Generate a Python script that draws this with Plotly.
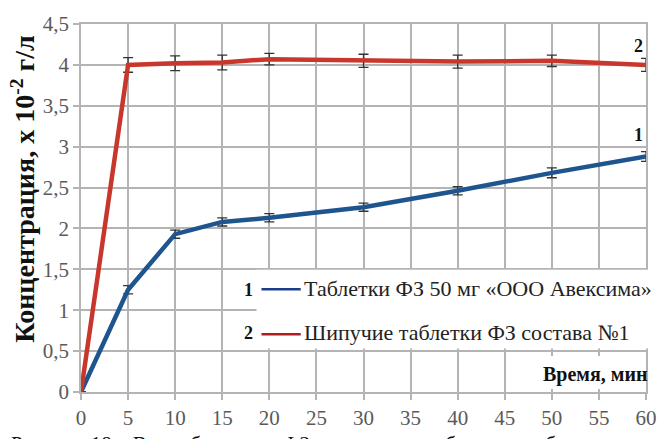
import plotly.graph_objects as go

# Release time, min
time_min = [0, 5, 10, 15, 20, 30, 40, 50, 60]

# Series 1: Таблетки ФЗ 50 мг «ООО Авексима»
conc_1 = [0, 1.25, 1.93, 2.08, 2.13, 2.26, 2.46, 2.68, 2.88]
err_1 = [0, 0.05, 0.05, 0.05, 0.05, 0.05, 0.05, 0.06, 0.06]

# Series 2: Шипучие таблетки ФЗ состава №1
conc_2 = [0, 4.00, 4.02, 4.03, 4.07, 4.05, 4.04, 4.05, 4.00]
err_2 = [0, 0.09, 0.09, 0.09, 0.07, 0.08, 0.08, 0.07, 0.08]

x_ticks = list(range(0, 61, 5))
y_ticks = [0, 0.5, 1, 1.5, 2, 2.5, 3, 3.5, 4, 4.5]
y_tick_text = ["0", "0,5", "1", "1,5", "2", "2,5", "3", "3,5", "4", "4,5"]

legend_names = ["Таблетки ФЗ 50 мг «ООО Авексима»", "Шипучие таблетки ФЗ состава №1"]

BLUE = "#1f558e"
RED = "#c9362b"
GRID = "#b4b4b4"
TICK_GRAY = "#5a5a5a"
SERIF = "Liberation Serif, Times New Roman, serif"

fig = go.Figure()
for y, e, c in [(conc_1, err_1, BLUE), (conc_2, err_2, RED)]:
    fig.add_trace(go.Scatter(
        x=time_min, y=y, mode="lines",
        line=dict(color=c, width=4.5),
        error_y=dict(type="data", array=e, visible=True, color="#333333",
                     thickness=1.3, width=5),
        showlegend=False, cliponaxis=False,
    ))

W, H = 666, 439
ML, MR, MT, MB = 81, 9, 24, 46
PW, PH = W - ML - MR, H - MT - MB


def px(xp):
    return (xp - ML) / PW


def py(yp):
    return (H - MB - yp) / PH


shapes = [
    # legend panel
    dict(type="rect", xref="paper", yref="paper", x0=px(260), x1=px(663),
         y0=py(349.5), y1=py(270.5), fillcolor="white", line_width=0, layer="above"),
    # axis-title panel
    dict(type="rect", xref="paper", yref="paper", x0=px(530), x1=px(656),
         y0=py(390), y1=py(357), fillcolor="white", line_width=0, layer="above"),
    # legend sample lines
    dict(type="line", xref="paper", yref="paper", x0=px(265), x1=px(305),
         y0=py(290), y1=py(290), line=dict(color="#1d3f8a", width=2.5), layer="above"),
    dict(type="line", xref="paper", yref="paper", x0=px(265), x1=px(305),
         y0=py(335), y1=py(335), line=dict(color="#b01c1c", width=2.5), layer="above"),
]

annotations = [
    dict(x=px(252), y=py(291), text="<b>1</b>"),
    dict(x=px(252), y=py(334), text="<b>2</b>"),
    dict(x=px(306), y=py(289), text=legend_names[0], xanchor="left",
         font=dict(family=SERIF, size=22, color="#222222")),
    dict(x=px(306), y=py(333), text=legend_names[1], xanchor="left",
         font=dict(family=SERIF, size=22, color="#222222")),
    dict(x=px(660), y=py(375), text="<b>Время, мин</b>", xanchor="right",
         font=dict(family=SERIF, size=20, color="#111111")),
    dict(x=px(649), y=py(46), text="<b>2</b>"),
    dict(x=px(649), y=py(135), text="<b>1</b>"),
    dict(x=px(22), y=py(190), text="<b>Концентрация, х 10<sup>-2</sup> г/л</b>",
         textangle=-90, font=dict(family=SERIF, size=28, color="#111111")),
    dict(x=px(8), y=py(431), yanchor="top", xanchor="left",
         text="Рисунок 18 – Высвобождение ФЗ из шипучих таблеток и таблеток сравнения",
         font=dict(family=SERIF, size=21, color="#111111")),
]
for a in annotations:
    a.setdefault("xref", "paper")
    a.setdefault("yref", "paper")
    a.setdefault("xanchor", "center")
    a.setdefault("yanchor", "middle")
    a.setdefault("showarrow", False)
    a.setdefault("font", dict(family=SERIF, size=18, color="#111111"))

fig.update_layout(
    width=W, height=H,
    margin=dict(l=ML, r=MR, t=MT, b=MB),
    paper_bgcolor="white", plot_bgcolor="white",
    font=dict(family=SERIF),
    shapes=shapes, annotations=annotations,
    xaxis=dict(range=[0, 60], tickvals=x_ticks, showgrid=True, gridcolor=GRID,
               gridwidth=1.5, zeroline=False, showline=True, linecolor=GRID,
               linewidth=1.5, mirror=True, ticks="outside", ticklen=6,
               tickcolor=GRID, tickwidth=1.5,
               tickfont=dict(family=SERIF, size=21, color=TICK_GRAY)),
    yaxis=dict(range=[0, 4.5], tickvals=y_ticks, ticktext=y_tick_text,
               showgrid=True, gridcolor=GRID, gridwidth=1.5, zeroline=False,
               showline=True, linecolor=GRID, linewidth=1.5, mirror=True,
               ticks="outside", ticklen=6, tickcolor=GRID, tickwidth=1.5,
               tickfont=dict(family=SERIF, size=21, color=TICK_GRAY)),
)

fig.write_html("out.html")
